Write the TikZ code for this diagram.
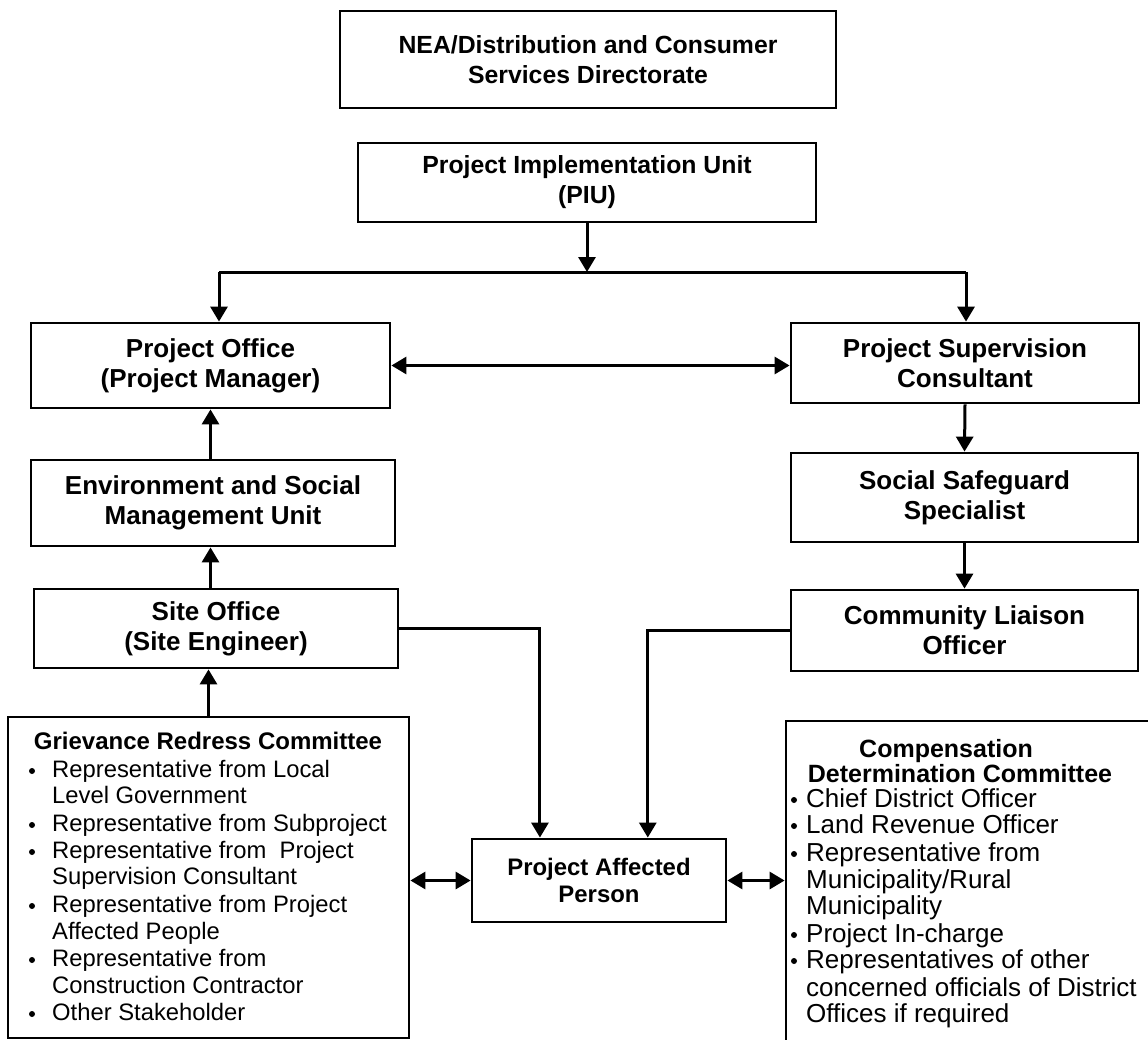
\documentclass[tikz,border=0pt]{standalone}
\usepackage{fontspec}
\setmainfont{Liberation Sans}
\usetikzlibrary{arrows.meta,calc}
\newcommand{\myfs}[2]{\fontsize{#1}{#2}\selectfont}
\begin{document}
\begin{tikzpicture}[x=1pt,y=-1pt,
  box/.style={draw, line width=2.8pt, align=center, inner sep=0pt, font=\bfseries\myfs{26}{30}},
  bigframe/.style={draw, line width=2.8pt, inner sep=0pt},
  conn/.style={line width=3pt},
  arr/.style={line width=3pt, -{Triangle[width=17pt,length=15pt]}},
  dblarr/.style={line width=3pt, {Triangle[width=17pt,length=15pt]}-{Triangle[width=17pt,length=15pt]}},
  grcitem/.style={anchor=base west, inner sep=0pt, font=\myfs{23.8}{27}},
  cdcitem/.style={anchor=base west, inner sep=0pt, font=\myfs{26}{27}},
  ttl/.style={anchor=base, inner sep=0pt}
]
\path[use as bounding box] (0,0) rectangle (1148,1039);
\clip (0,0) rectangle (1148,1039);
\fill[white] (0,0) rectangle (1148,1039);

% boxes
\node[box, minimum width=496pt, minimum height=97pt, font=\bfseries\myfs{24.8}{30}] (nea) at (588,59.5) {NEA/Distribution and Consumer\\Services Directorate};
\node[box, minimum width=458pt, minimum height=79pt, font=\bfseries\myfs{24.8}{30}] (piu) at (587,182.5) {Project Implementation Unit\\(PIU)};
\node[box, minimum width=359pt, minimum height=85pt] (po) at (210.5,365.5) {Project Office\\(Project Manager)};
\node[box, minimum width=348pt, minimum height=80pt] (psc) at (965,363) {Project Supervision\\Consultant};
\node[box, minimum width=364pt, minimum height=86pt] (esmu) at (213,503) {Environment and Social\\Management Unit};
\node[box, minimum width=347pt, minimum height=89pt] (sss) at (964.5,497.5) {Social Safeguard\\Specialist};
\node[box, minimum width=364pt, minimum height=79pt] (so) at (216,628.5) {Site Office\\(Site Engineer)};
\node[box, minimum width=347pt, minimum height=81pt] (clo) at (964.5,630.5) {Community Liaison\\Officer};
\node[box, minimum width=254pt, minimum height=83pt, font=\bfseries\myfs{23.9}{27}] (pap) at (599,880.5) {Project Affected\\Person};
\node[bigframe, minimum width=401pt, minimum height=321pt] (grc) at (208.5,877.5) {};
\node[bigframe, minimum width=380pt, minimum height=340pt] (cdc) at (976,891) {};

% connectors
\coordinate (bl) at (219,272);
\coordinate (br) at (966,272);
\draw[conn] (bl) -- (br);
\draw[arr] (piu.south) -- (piu.south |- bl);
\draw[arr] (bl) -- (bl |- po.north);
\draw[arr] (br) -- (br |- psc.north);
\draw[dblarr] (po.east) -- (po.east -| psc.west);
\draw[arr] (esmu.north -| po.south) -- (po.south);
\draw[arr] (so.north -| po.south) -- (esmu.south -| po.south);
\draw[arr] (grc.north) -- (grc.north |- so.south);
\draw[arr] (psc.south) -- (sss.north);
\draw[arr] (sss.south) -- (clo.north);
\draw[arr] (so.east) -| ($(pap.north west)!0.27!(pap.north east)$);
\draw[arr] (clo.west) -| ($(pap.north west)!0.69!(pap.north east)$);
\draw[dblarr] (grc.east |- pap.west) -- (pap.west);
\draw[dblarr] (pap.east) -- (pap.east -| cdc.west);

% GRC contents
\node[ttl, font=\bfseries\myfs{24}{27}] (grct) at (208,749) {Grievance Redress Committee};
\foreach \yy/\bb/\tt [count=\i] in {
  777/1/{Representative from Local},
  803/0/{Level Government},
  831/1/{Representative from Subproject},
  858/1/{Representative from \ Project},
  884/0/{Supervision Consultant},
  912/1/{Representative from Project},
  939/0/{Affected People},
  966/1/{Representative from},
  993/0/{Construction Contractor},
  1020/1/{Other Stakeholder}}{
  \node[grcitem] (grc\i) at (52,\yy) {\tt};
  \ifnum\bb=1 \fill (32,\yy-6) circle (3pt); \fi
}

% CDC contents
\node[ttl, font=\bfseries\myfs{25}{25}] (cdct1) at (946,757) {Compensation};
\node[ttl, font=\bfseries\myfs{25}{25}] (cdct2) at (960,782) {Determination Committee};
\foreach \yy/\bb/\tt [count=\i] in {
  807/1/{Chief District Officer},
  833/1/{Land Revenue Officer},
  861/1/{Representative from},
  888/0/{Municipality/Rural},
  914/0/{Municipality},
  942/1/{Project In-charge},
  968/1/{Representatives of other},
  996/0/{concerned officials of District},
  1022/0/{Offices if required}}{
  \node[cdcitem] (cdc\i) at (806,\yy) {\tt};
  \ifnum\bb=1 \fill (794,\yy-7) circle (3pt); \fi
}
\end{tikzpicture}
\end{document}
